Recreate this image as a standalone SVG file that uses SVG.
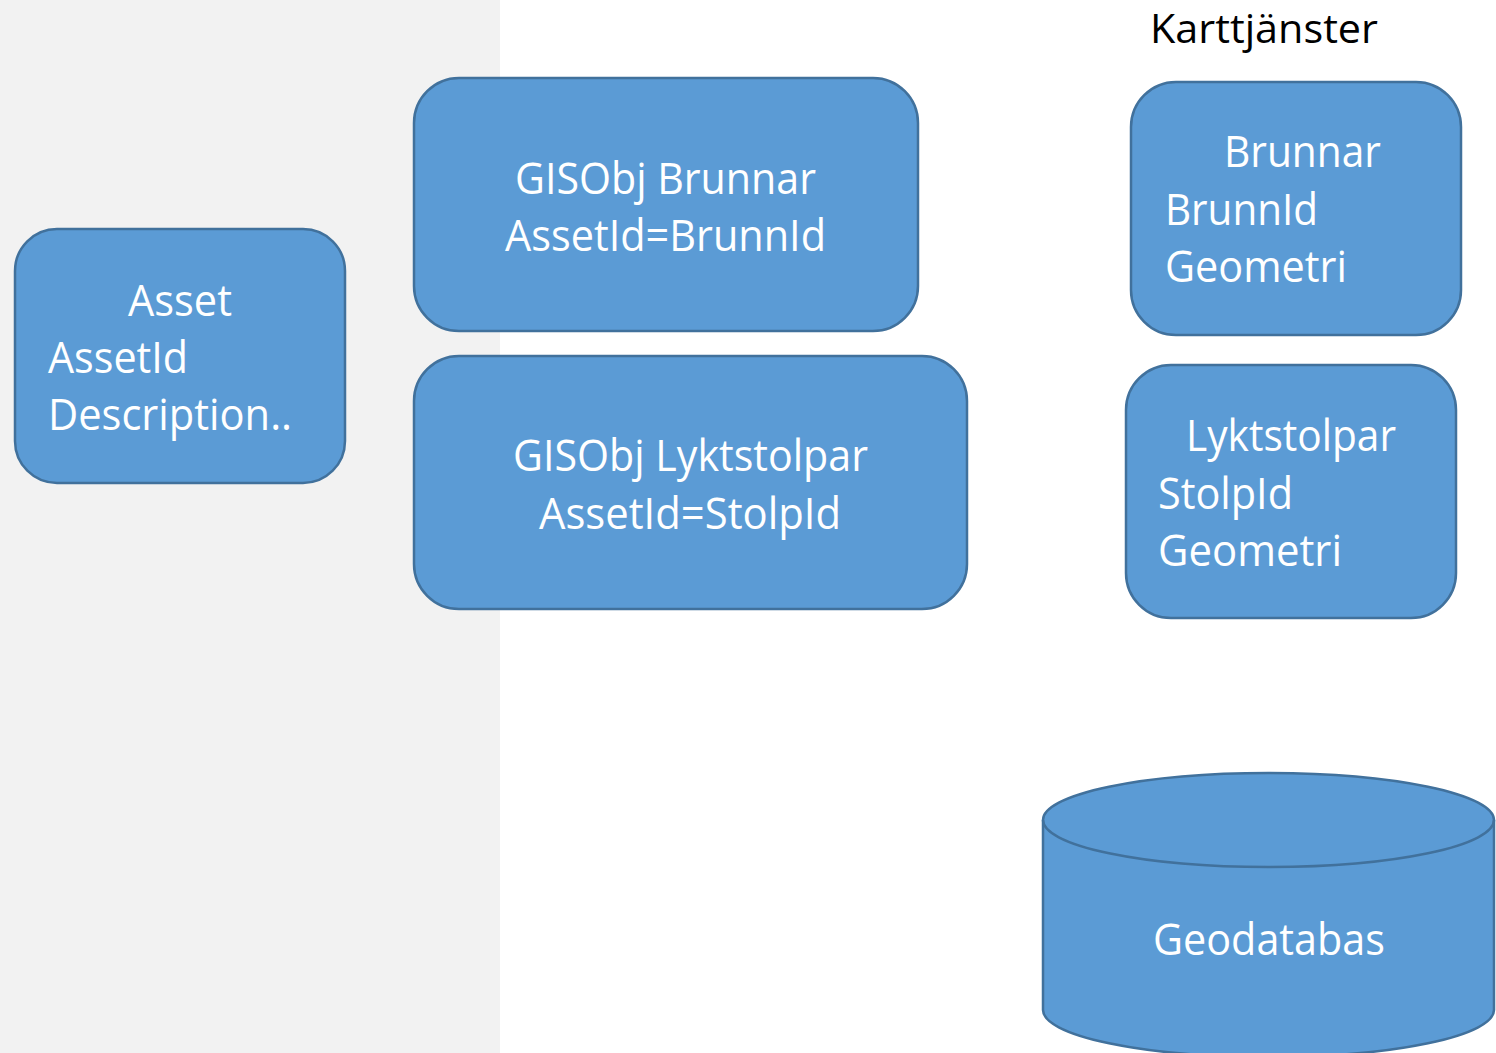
<svg xmlns="http://www.w3.org/2000/svg" width="1496" height="1053" viewBox="0 0 1496 1053">
<style>
.box{fill:#5B9BD5;stroke:#41719C;stroke-width:2.5}
.t{font-family:"Open Sans","Noto Sans","Liberation Sans",sans-serif;font-size:43px;fill:#ffffff}
.k{font-family:"Open Sans","Noto Sans","Liberation Sans",sans-serif;font-size:40px;fill:#000000}
</style>
<rect x="0" y="0" width="1496" height="1053" fill="#ffffff"/>
<rect x="0" y="0" width="500" height="1053" fill="#f2f2f2"/>
<g id="connectors"></g>
<g id="karttjanster-label">
<text class="k" x="1150" y="43" textLength="228" lengthAdjust="spacingAndGlyphs">Karttjänster</text>
</g>
<g id="asset">
<rect class="box" x="15" y="229" width="330" height="254" rx="42" ry="42"/>
<text class="t" x="128" y="316" textLength="104" lengthAdjust="spacingAndGlyphs">Asset</text>
<text class="t" x="48" y="373" textLength="140" lengthAdjust="spacingAndGlyphs">AssetId</text>
<text class="t" x="48" y="430" textLength="244" lengthAdjust="spacingAndGlyphs">Description..</text>
</g>
<g id="gisobj-brunnar">
<rect class="box" x="414" y="78" width="504" height="253" rx="45" ry="45"/>
<text class="t" x="515" y="194" textLength="301" lengthAdjust="spacingAndGlyphs">GISObj Brunnar</text>
<text class="t" x="505" y="251" textLength="321" lengthAdjust="spacingAndGlyphs">AssetId=BrunnId</text>
</g>
<g id="gisobj-lyktstolpar">
<rect class="box" x="414" y="356" width="553" height="253" rx="45" ry="45"/>
<text class="t" x="513" y="471" textLength="355" lengthAdjust="spacingAndGlyphs">GISObj Lyktstolpar</text>
<text class="t" x="539" y="529" textLength="302" lengthAdjust="spacingAndGlyphs">AssetId=StolpId</text>
</g>
<g id="brunnar">
<rect class="box" x="1131" y="82" width="330" height="253" rx="45" ry="45"/>
<text class="t" x="1224" y="167" textLength="157" lengthAdjust="spacingAndGlyphs">Brunnar</text>
<text class="t" x="1165" y="225" textLength="153" lengthAdjust="spacingAndGlyphs">BrunnId</text>
<text class="t" x="1165" y="282" textLength="182" lengthAdjust="spacingAndGlyphs">Geometri</text>
</g>
<g id="lyktstolpar">
<rect class="box" x="1126" y="365" width="330" height="253" rx="45" ry="45"/>
<text class="t" x="1186" y="451" textLength="210" lengthAdjust="spacingAndGlyphs">Lyktstolpar</text>
<text class="t" x="1158" y="509" textLength="135" lengthAdjust="spacingAndGlyphs">StolpId</text>
<text class="t" x="1158" y="566" textLength="184" lengthAdjust="spacingAndGlyphs">Geometri</text>
</g>
<g id="geodatabas">
<path class="box" d="M1043,820 A225.5,47 0 0 1 1494,820 L1494,1010 A225.5,47 0 0 1 1043,1010 Z"/>
<path d="M1043,820 A225.5,47 0 0 0 1494,820" fill="none" stroke="#41719C" stroke-width="2.5"/>
<text class="t" x="1153" y="955" textLength="232" lengthAdjust="spacingAndGlyphs">Geodatabas</text>
</g>
</svg>
